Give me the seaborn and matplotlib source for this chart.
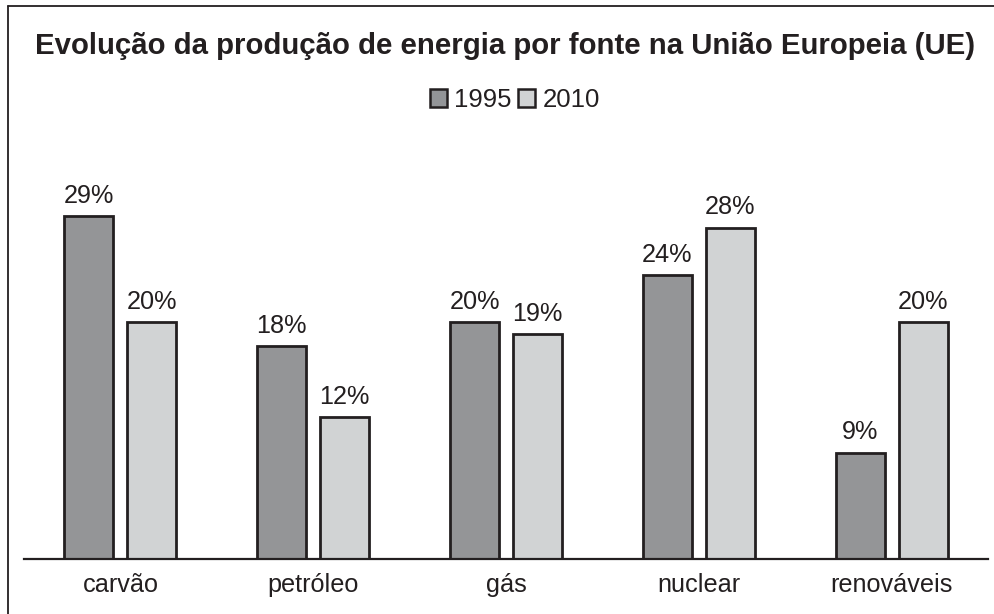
import matplotlib
matplotlib.use("Agg")
import matplotlib.pyplot as plt
import seaborn as sns
import pandas as pd
from matplotlib.lines import Line2D

categories = ["carvão", "petróleo", "gás", "nuclear", "renováveis"]
years = ["1995", "2010"]
values_1995 = [29, 18, 20, 24, 9]
values_2010 = [20, 12, 19, 28, 20]

df = pd.DataFrame({
    "fonte": categories * 2,
    "ano": [years[0]] * 5 + [years[1]] * 5,
    "valor": values_1995 + values_2010,
})

sns.set_theme(style="white")
plt.rcParams["font.family"] = ["Liberation Sans", "DejaVu Sans"]
TXT = "#231f20"
FS = 18.2

W, H = 994, 614
fig = plt.figure(figsize=(W / 100, H / 100), dpi=100)
ax_left, ax_right = 24, 988
ax_bottom, ax_top = 559, 150
ax = fig.add_axes([ax_left / W, (H - ax_bottom) / H,
                   (ax_right - ax_left) / W, (ax_bottom - ax_top) / H])

palette = {"1995": "#939598", "2010": "#d1d3d4"}
sns.barplot(data=df, x="fonte", y="valor", hue="ano", order=categories,
            hue_order=years, palette=palette, width=0.653, gap=0.22,
            edgecolor=TXT, linewidth=2.0, ax=ax, legend=False)

px_per_unit = 11.83
ax.set_xlim(-0.5, 4.5)
ax.set_ylim(0, (ax_bottom - ax_top) / px_per_unit)

for cont in ax.containers:
    ax.bar_label(cont, labels=[f"{int(v)}%" for v in cont.datavalues],
                 padding=6, fontsize=FS, color=TXT)

for s in ["top", "right", "left"]:
    ax.spines[s].set_visible(False)
ax.spines["bottom"].set_color(TXT)
ax.spines["bottom"].set_linewidth(1.6)
ax.set_yticks([])
ax.set_xlabel("")
ax.set_ylabel("")
ax.tick_params(axis="x", length=0, pad=10, labelsize=FS, colors=TXT)

handles = [plt.Rectangle((0, 0), 1, 1, facecolor=palette[y], edgecolor=TXT, linewidth=1.8)
           for y in years]
fig.legend(handles, years, loc="center", bbox_to_anchor=(515 / W, 1 - 100 / H),
           ncol=2, frameon=False, fontsize=18.5, handlelength=0.66, handleheight=0.66,
           handletextpad=0.3, columnspacing=0.25, labelcolor=TXT)

fig.text(505 / W, 1 - 46 / H,
         "Evolução da produção de energia por fonte na União Europeia (UE)",
         ha="center", va="center", fontsize=21.2, fontweight="bold", color=TXT)

# outer frame (left and top)
fig.add_artist(Line2D([8 / W, 8 / W], [0, 1 - 6 / H], color=TXT, linewidth=1.3,
                      transform=fig.transFigure))
fig.add_artist(Line2D([8 / W, 1], [1 - 6 / H, 1 - 6 / H], color=TXT, linewidth=1.3,
                      transform=fig.transFigure))

fig.savefig("out.png", dpi=100, facecolor="white")
